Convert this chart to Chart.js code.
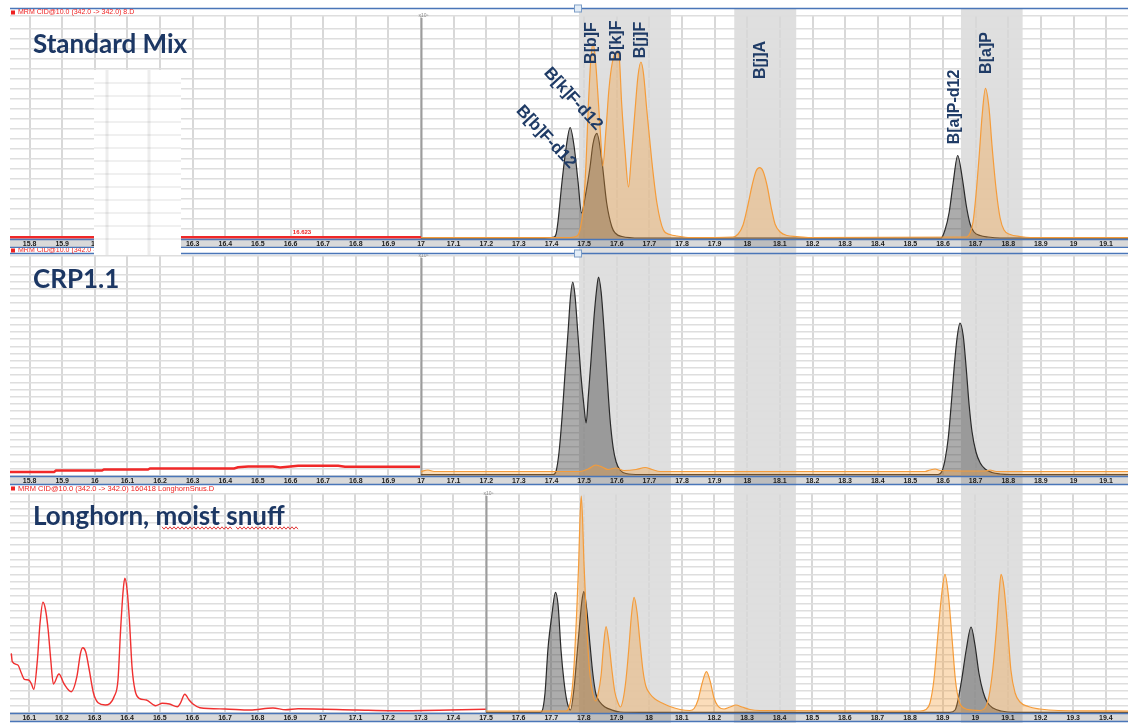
<!DOCTYPE html>
<html><head><meta charset="utf-8">
<script src="https://cdn.jsdelivr.net/npm/chart.js@4.4.1/dist/chart.umd.min.js"></script>
<style>
html,body{margin:0;padding:0;background:#fff;}
body{width:1128px;height:723px;position:relative;overflow:hidden;}
canvas{position:absolute;left:0;display:block;}
</style></head><body>
<canvas id="c1" width="1128" height="248" style="top:0px"></canvas>
<canvas id="c2" width="1128" height="238" style="top:248px"></canvas>
<canvas id="c3" width="1128" height="237" style="top:486px"></canvas>
<script>
// ---------- tick labels (retention time, min) ----------
const stdTicks = [15.8,15.9,16,16.1,16.2,16.3,16.4,16.5,16.6,16.7,16.8,16.9,17,17.1,17.2,17.3,17.4,17.5,17.6,17.7,17.8,17.9,18,18.1,18.2,18.3,18.4,18.5,18.6,18.7,18.8,18.9,19,19.1];
const snuffTicks = [16.1,16.2,16.3,16.4,16.5,16.6,16.7,16.8,16.9,17,17.1,17.2,17.3,17.4,17.5,17.6,17.7,17.8,17.9,18,18.1,18.2,18.3,18.4,18.5,18.6,18.7,18.8,18.9,19,19.1,19.2,19.3,19.4];

// ---------- shaded retention windows ----------
const stdBands = [[17.484,17.766],[17.960,18.150],[18.655,18.844]];
const snuffBands = [[17.785,18.067],[18.260,18.450],[18.956,19.145]];

// ---------- compound names ----------
const compounds = ['B[b]F-d12','B[k]F-d12','B[b]F','B[k]F','B[j]F','B[j]A','B[a]P-d12','B[a]P'];

// ---------- Standard Mix traces [time, abundance] ----------
const stdRed = [[15.740,1.8],[17.000,1.8]];
const stdBlack = [[17.000,1],[17.365,1],[17.408,2],[17.414,5],[17.420,18],[17.432,57],[17.445,92],[17.457,111.5],[17.469,93],[17.481,58],[17.492,26],[17.503,42],[17.518,72],[17.527,95],[17.539,105.7],[17.554,79],[17.569,36],[17.585,12],[17.595,6],[17.616,2.5],[17.671,1],[18.594,1],[18.606,9],[18.619,27],[18.631,56],[18.645,83.5],[18.659,61],[18.671,34],[18.683,15],[18.695,7],[18.714,3.5],[18.738,2],[18.775,1],[19.167,1]];
const stdOrange = [[17.000,1.5],[17.457,1.5],[17.478,3],[17.487,9],[17.497,30],[17.506,78],[17.513,135],[17.521,182],[17.527,195],[17.533,185],[17.541,150],[17.549,110],[17.557,73],[17.567,110],[17.576,150],[17.586,176],[17.598,187],[17.607,183],[17.615,135],[17.625,89],[17.636,52],[17.644,80],[17.656,129],[17.665,163],[17.674,177],[17.682,165],[17.692,129],[17.707,79],[17.723,36],[17.743,9],[17.763,4.5],[17.785,3],[17.825,1.5],[17.956,2],[17.972,5],[17.987,14],[18.002,34],[18.015,54],[18.027,68],[18.038,71.3],[18.048,68],[18.061,53],[18.073,32],[18.085,15],[18.101,7],[18.122,3.5],[18.150,2.5],[18.193,1.5],[18.671,2],[18.683,6],[18.692,17],[18.701,44],[18.711,84],[18.720,124],[18.730,150.7],[18.741,131],[18.750,94],[18.763,49],[18.775,21],[18.787,9],[18.806,4.5],[18.836,2.5],[18.867,1.5],[19.167,1.5]];

// ---------- CRP1.1 traces ----------
const crpRed = [[15.740,4],[15.875,4],[15.881,5.5],[16.022,5.5],[16.028,6.5],[16.163,6.5],[16.169,7.5],[16.427,7.5],[16.439,8.7],[16.470,9.5],[16.546,9.5],[16.568,8.5],[16.623,10.2],[16.746,10.2],[16.767,9.2],[16.838,9.2],[16.997,9.2]];
const crpBlack = [[17.000,1.5],[17.405,1.5],[17.414,5],[17.423,24],[17.432,58],[17.441,101],[17.451,146],[17.458,179],[17.465,194],[17.472,180],[17.481,141],[17.490,101],[17.500,68],[17.506,53],[17.513,81],[17.521,116],[17.530,158],[17.538,186],[17.544,199],[17.552,184],[17.561,146],[17.570,101],[17.579,58],[17.589,28],[17.598,14],[17.610,6],[17.628,2.5],[17.671,1.5],[18.585,1.5],[18.597,5],[18.606,16],[18.616,38],[18.625,71],[18.634,108],[18.643,138],[18.652,153],[18.662,140],[18.671,108],[18.680,71],[18.689,44],[18.701,24],[18.714,13],[18.729,7],[18.750,3.5],[18.775,2],[18.806,1.5],[19.167,1.5]];
const crpOrange = [[17.000,4.5],[17.021,6],[17.040,4.5],[17.487,4.5],[17.512,7],[17.536,11],[17.558,8.5],[17.573,6.5],[17.598,8],[17.622,5.5],[17.659,6.5],[17.687,8.5],[17.708,6.5],[17.733,4.5],[18.545,4.5],[18.560,6],[18.576,7],[18.591,5.5],[18.729,5],[18.744,6],[18.763,4.5],[19.167,4.5]];

// ---------- Longhorn, moist snuff traces ----------
const snuffRed = [[16.045,59.7],[16.048,51.3],[16.065,48],[16.076,39.7],[16.085,33.7],[16.098,33],[16.106,29.7],[16.114,23.7],[16.125,53],[16.133,89.7],[16.142,110.7],[16.150,103],[16.158,83],[16.166,53],[16.174,29],[16.191,39],[16.207,29],[16.229,21.3],[16.246,36.3],[16.257,59.7],[16.264,65.3],[16.273,61.3],[16.284,43],[16.297,19.7],[16.311,10.3],[16.333,8],[16.361,17],[16.372,33],[16.380,83],[16.388,123],[16.393,134.7],[16.400,123],[16.407,93],[16.415,46.3],[16.424,23],[16.437,14.7],[16.459,13],[16.487,7.3],[16.508,9.7],[16.530,9],[16.554,6.3],[16.563,9.7],[16.577,18.7],[16.590,13],[16.602,9],[16.623,5.3],[16.700,4],[16.777,3],[16.847,5],[16.886,3.3],[16.924,4.3],[17.105,3],[17.215,2.3],[17.390,3],[17.499,3.7]];
const snuffBlack = [[17.500,0.7],[17.666,0.7],[17.672,2],[17.681,20],[17.690,64],[17.702,98],[17.713,120.7],[17.721,108],[17.730,63],[17.739,32],[17.748,12],[17.759,3],[17.770,25],[17.779,58],[17.788,92],[17.794,112],[17.800,121.3],[17.810,100],[17.819,68],[17.828,38],[17.837,19],[17.849,11],[17.865,6],[17.886,3],[17.911,1],[17.972,0.7],[18.922,0.7],[18.938,3],[18.947,13],[18.959,35],[18.972,63],[18.987,86],[18.999,68],[19.011,40],[19.024,21],[19.036,11],[19.054,5],[19.079,2],[19.122,0.7],[19.468,0.7]];
const snuffOrange = [[17.500,2],[17.666,2],[17.745,2],[17.754,5],[17.764,23],[17.771,53],[17.777,93],[17.784,148],[17.788,193],[17.792,217],[17.796,195],[17.800,153],[17.807,101],[17.813,63],[17.819,38],[17.827,20],[17.836,12],[17.843,18],[17.853,38],[17.860,66],[17.868,86.3],[17.877,70],[17.886,43],[17.895,21],[17.905,10],[17.912,6],[17.920,13],[17.929,33],[17.938,65],[17.946,98],[17.954,115.7],[17.963,101],[17.972,71],[17.981,43],[17.990,27],[18.003,19],[18.018,14],[18.040,10],[18.064,6.5],[18.095,3.5],[18.125,2.5],[18.138,4.5],[18.150,13],[18.162,29],[18.176,41.3],[18.187,32],[18.199,15],[18.211,7],[18.230,4],[18.248,6],[18.266,8],[18.285,6],[18.309,3.5],[18.340,2.5],[18.830,2],[18.849,3.5],[18.861,10],[18.873,33],[18.884,73],[18.895,113],[18.907,138.7],[18.918,116],[18.929,73],[18.939,33],[18.950,12],[18.965,5],[18.990,3],[19.014,2.5],[19.030,5],[19.042,17],[19.054,45],[19.065,85],[19.073,121],[19.079,138.7],[19.088,125],[19.099,85],[19.109,43],[19.122,20],[19.137,11],[19.162,6.5],[19.198,4],[19.254,2.5],[19.468,2]];

// ---------- styles ----------
const ORANGE = {line:'#f59c3a', fill:'rgba(243,156,52,0.34)', width:1.2, smooth:true};
const BLACK  = {line:'#2a2a2a', fill:'rgba(70,70,70,0.45)', width:1.2, smooth:true};
const REDSTEP = {line:'#f02828', fill:null, width:2.4, smooth:false};
const REDSMOOTH = {line:'#f03030', fill:null, width:1.4, smooth:true};
const NAVY = '#1c3764';

function fmtTick(v){
  const r = Math.round(v);
  return Math.abs(v - r) < 1e-6 ? String(r) : v.toFixed(1);
}

function decor(p){
  return {
    id: 'decor',
    beforeDraw(chart){
      const c = chart.ctx, a = chart.chartArea, xs = chart.scales.x;
      c.save();
      c.fillStyle = '#ffffff'; c.fillRect(0,0,chart.width,chart.height);
      c.fillStyle = '#d9d9d9'; c.fillRect(a.left, a.bottom, a.right-a.left, 9);
      c.fillStyle = 'rgba(0,0,0,0.125)';
      p.bands.forEach(b => {
        const x1 = xs.getPixelForValue(b[0]), x2 = xs.getPixelForValue(b[1]);
        c.fillRect(x1, p.bandTop, x2-x1, chart.height - p.bandTop);
      });
      c.restore();
    },
    beforeDatasetsDraw(chart){
      const c = chart.ctx, a = chart.chartArea, xs = chart.scales.x;
      const dx = Math.round(xs.getPixelForValue(p.divider)) + 0.5;
      c.save();
      c.strokeStyle = '#9c9c9c'; c.lineWidth = 2;
      c.beginPath(); c.moveTo(dx, a.top + 2); c.lineTo(dx, a.bottom); c.stroke();
      c.fillStyle = '#8a8a8a'; c.font = '5px "Liberation Sans"'; c.textAlign = 'center'; c.textBaseline = 'bottom';
      c.fillText('x10\u2075', dx + 2, a.top + 2);
      c.restore();
    },
    afterDraw(chart){
      const c = chart.ctx, a = chart.chartArea, xs = chart.scales.x, ys = chart.scales.y;
      c.save();
      // axis bar borders + top border
      c.strokeStyle = '#4a76b8'; c.lineWidth = 1.5;
      const hl = (y) => { c.beginPath(); c.moveTo(a.left, y); c.lineTo(a.right, y); c.stroke(); };
      hl(a.bottom + 0.5); hl(a.bottom + 8.5);
      if (p.topLine !== null) hl(p.topLine);
      // red header text
      c.fillStyle = '#ee2222';
      c.fillRect(11, p.headerY - 2, 4, 4);
      c.font = p.headerFont; c.textAlign = 'left'; c.textBaseline = 'middle';
      c.fillText(p.header, 18, p.headerY);
      // title
      c.fillStyle = NAVY; c.font = 'bold 26px Lato'; c.textBaseline = 'alphabetic';
      c.fillText(p.title, 33, p.titleY);
      // spell-check squiggles
      if (p.squiggles){
        c.strokeStyle = '#e23a3a'; c.lineWidth = 1;
        p.squiggles.forEach(s => {
          c.beginPath();
          for (let x = s[0], i = 0; x <= s[1]; x += 2, i++){
            const y = p.squiggleY + (i % 2 ? 1.2 : -1.2);
            if (i === 0) c.moveTo(x, y); else c.lineTo(x, y);
          }
          c.stroke();
        });
      }
      // compound labels
      if (p.labels){
        c.fillStyle = '#1f3b66';
        p.labels.forEach(l => {
          const px = xs.getPixelForValue(l.t), py = ys.getPixelForValue(l.v);
          c.save();
          c.translate(px, py); c.rotate(l.rot * Math.PI / 180);
          c.font = 'bold ' + l.size + 'px "Liberation Sans"';
          c.textAlign = 'center'; c.textBaseline = 'middle';
          c.fillText(compounds[l.i], 0, 0);
          c.restore();
        });
      }
      // red retention note
      if (p.note){
        c.fillStyle = '#ee2222'; c.font = 'bold 6px "Liberation Sans"'; c.textAlign = 'center'; c.textBaseline = 'middle';
        c.fillText(p.note.text, xs.getPixelForValue(p.note.t), ys.getPixelForValue(p.note.v));
      }
      // selection handle
      if (p.handle){
        c.fillStyle = '#e3edf7'; c.strokeStyle = '#7b9cc6'; c.lineWidth = 1;
        c.fillRect(p.handle[0]-3, p.handle[1]-3, 6, 6);
        c.strokeRect(p.handle[0]-3.5, p.handle[1]-3.5, 7, 7);
      }
      // white pasted box artefact
      if (p.box){
        const b = p.box;
        c.fillStyle = '#ffffff'; c.fillRect(b[0], b[1], b[2]-b[0], b[3]-b[1]);
        c.strokeStyle = 'rgba(0,0,0,0.06)'; c.lineWidth = 2;
        for (let y = b[1] + 13; y < b[3]; y += 13){ c.beginPath(); c.moveTo(b[0], y); c.lineTo(b[2], y); c.stroke(); }
        c.strokeStyle = 'rgba(0,0,0,0.07)'; c.lineWidth = 3;
        [107, 149].forEach(x => { c.beginPath(); c.moveTo(x, b[1]); c.lineTo(x, b[3]); c.stroke(); });
      }
      c.restore();
    }
  };
}

function buildChart(id, p){
  return new Chart(document.getElementById(id), {
    type: 'line',
    data: { datasets: p.series.map(s => ({
      data: s.pts.map(q => ({x: q[0], y: q[1]})),
      borderColor: s.style.line,
      borderWidth: s.style.width,
      backgroundColor: s.style.fill || 'rgba(0,0,0,0)',
      fill: s.style.fill ? 'origin' : false,
      pointRadius: 0, pointHoverRadius: 0,
      tension: s.style.smooth ? 0.3 : 0,
      cubicInterpolationMode: s.style.smooth ? 'monotone' : 'default'
    }))},
    options: {
      responsive: false, animation: false, devicePixelRatio: 1, events: [],
      layout: { padding: { left: 10, right: 0, top: p.padTop, bottom: p.padBottom } },
      plugins: { legend: {display:false}, tooltip: {enabled:false} },
      scales: {
        x: {
          type: 'linear', min: p.range[0], max: p.range[1],
          afterBuildTicks: s => { s.ticks = p.ticks.map(v => ({value: v})); },
          afterFit: s => { s.height = 9; },
          ticks: { autoSkip:false, maxRotation:0, minRotation:0, padding:1, color:'#1a1a1a',
                   font:{family:'"Liberation Sans", Arial, sans-serif', size:7, weight:'bold'},
                   callback: v => fmtTick(v) },
          grid: { color:'#d8d8d8', lineWidth:2, drawTicks:false },
          border: { display:false }
        },
        y: {
          min: 0, max: p.yMax,
          afterFit: s => { s.width = 0; },
          ticks: { display:false, stepSize:p.step },
          grid: { color:'#dedede', lineWidth:1.5, drawTicks:false },
          border: { display:false }
        }
      }
    },
    plugins: [decor(p)]
  });
}

buildChart('c1', {
  range:[15.740,19.167], ticks:stdTicks, yMax:223, step:10, padTop:16, padBottom:0,
  bands:stdBands, bandTop:9, divider:17.0, topLine:8.5,
  header:'MRM CID@10.0 (342.0 -> 342.0) 8.D', headerY:12.5, headerFont:'7px "Liberation Sans"',
  title:'Standard Mix', titleY:53,
  series:[{pts:stdOrange, style:ORANGE},{pts:stdBlack, style:BLACK},{pts:stdRed, style:REDSTEP}],
  labels:[
    {i:0, t:17.383, v:102, rot:47, size:17},
    {i:1, t:17.466, v:140, rot:47.6, size:17},
    {i:2, t:17.524, v:196, rot:-90, size:16},
    {i:3, t:17.599, v:198, rot:-90, size:16},
    {i:4, t:17.674, v:199, rot:-90, size:16},
    {i:5, t:18.042, v:179, rot:-90, size:16},
    {i:6, t:18.634, v:132, rot:-90, size:16},
    {i:7, t:18.735, v:186, rot:-90, size:16}
  ],
  note:{text:'16.623', t:16.635, v:7},
  handle:[578, 8.5],
  box:[94, 70, 181, 248]
});

buildChart('c2', {
  range:[15.740,19.167], ticks:stdTicks, yMax:220, step:7.2, padTop:8, padBottom:1,
  bands:stdBands, bandTop:0, divider:17.0, topLine:5.5,
  header:'MRM CID@10.0 (342.0 -> 342.0) 1.D', headerY:2.5, headerFont:'7px "Liberation Sans"',
  title:'CRP1.1', titleY:40,
  series:[{pts:crpOrange, style:ORANGE},{pts:crpBlack, style:BLACK},{pts:crpRed, style:REDSTEP}],
  handle:[578, 5.5],
  box:[94, 0, 181, 7]
});

buildChart('c3', {
  range:[16.041,19.468], ticks:snuffTicks, yMax:219, step:7.3, padTop:8, padBottom:1,
  bands:snuffBands, bandTop:0, divider:17.5, topLine:null,
  header:'MRM CID@10.0 (342.0 -> 342.0) 160418 LonghornSnus.D', headerY:2.5, headerFont:'7.5px "Liberation Sans"',
  title:'Longhorn, moist snuff', titleY:39,
  squiggles:[[162,232],[236,298]], squiggleY:42,
  series:[{pts:snuffOrange, style:ORANGE},{pts:snuffBlack, style:BLACK},{pts:snuffRed, style:REDSMOOTH}]
});
</script>
</body></html>
